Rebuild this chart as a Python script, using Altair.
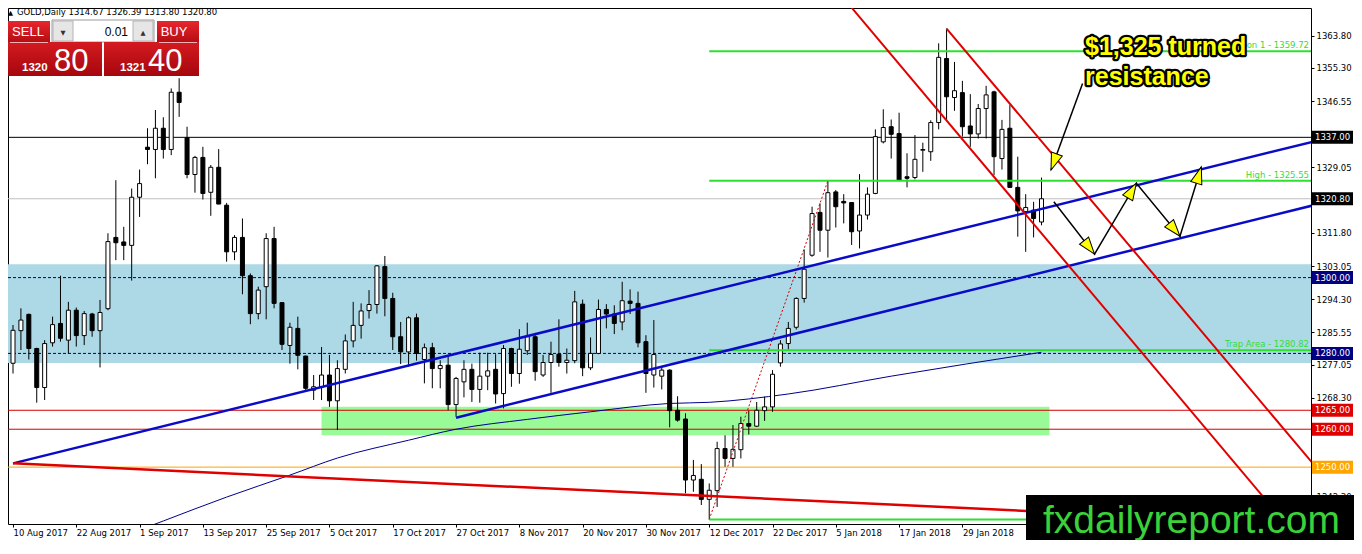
import math
import altair as alt
import numpy as np
import pandas as pd

# ---------------- data ----------------
date_labels = ["10 Aug 2017", "22 Aug 2017", "1 Sep 2017", "13 Sep 2017", "25 Sep 2017",
               "5 Oct 2017", "17 Oct 2017", "27 Oct 2017", "8 Nov 2017", "20 Nov 2017",
               "30 Nov 2017", "12 Dec 2017", "22 Dec 2017", "5 Jan 2018", "17 Jan 2018",
               "29 Jan 2018"]
price_ticks = [1363.80, 1355.30, 1346.55, 1337.80, 1329.05, 1320.30, 1311.80, 1303.05,
               1294.30, 1285.55, 1277.05, 1268.30, 1259.55, 1250.80, 1242.30]

opens = [1277.4, 1286.0, 1290.3, 1281.3, 1271.0, 1282.8, 1287.9, 1283.5, 1291.4, 1284.7,
         1290.4, 1286.0, 1291.8, 1310.6, 1309.4, 1308.5, 1321.2, 1334.4, 1333.8, 1339.4,
         1333.8, 1348.9, 1336.9, 1327.2, 1331.7, 1322.5, 1329.1, 1319.1, 1306.8, 1310.6,
         1300.5, 1290.5, 1297.6, 1310.3, 1293.4, 1282.1, 1286.6, 1279.3, 1270.3, 1271.2,
         1274.3, 1267.5, 1275.8, 1283.3, 1287.4, 1291.3, 1292.9, 1302.9, 1294.5, 1284.4,
         1280.4, 1289.4, 1278.4, 1281.5, 1276.0, 1276.9, 1266.5, 1272.5, 1275.8, 1270.5,
         1274.0, 1275.8, 1269.4, 1281.3, 1274.7, 1280.7, 1284.4, 1274.3, 1277.6, 1279.8,
         1277.6, 1278.1, 1293.0, 1276.2, 1280.0, 1291.6, 1290.4, 1288.3, 1293.8, 1293.2,
         1283.1, 1274.3, 1274.0, 1275.6, 1265.0, 1262.7, 1246.6, 1246.8, 1241.5, 1243.8,
         1254.9, 1252.3, 1254.6, 1261.5, 1260.8, 1264.9, 1265.9, 1277.5, 1282.6, 1286.9,
         1294.5, 1305.9, 1317.2, 1312.5, 1322.6, 1320.1, 1319.8, 1312.3, 1316.5, 1322.2,
         1335.8, 1339.8, 1338.0, 1326.6, 1326.4, 1333.6, 1333.2, 1340.9, 1357.8, 1347.5,
         1348.8, 1340.0, 1337.9, 1344.6, 1349.0, 1331.4, 1339.4, 1323.8, 1317.4, 1317.8,
         1314.67]
highs = [1287.5, 1291.9, 1290.5, 1281.5, 1283.5, 1289.7, 1300.5, 1293.6, 1292.1, 1291.2,
         1290.7, 1294.1, 1311.7, 1325.7, 1313.4, 1323.5, 1328.5, 1339.4, 1344.2, 1342.3,
         1349.9, 1352.6, 1339.8, 1332.1, 1334.5, 1329.7, 1333.9, 1319.7, 1311.2, 1315.6,
         1301.1, 1297.6, 1311.7, 1313.4, 1293.5, 1288.1, 1289.7, 1279.4, 1274.3, 1281.7,
         1279.6, 1278.2, 1285.0, 1293.6, 1293.2, 1296.7, 1303.3, 1305.7, 1296.0, 1288.3,
         1289.8, 1290.5, 1282.6, 1282.8, 1278.2, 1279.6, 1273.8, 1278.2, 1277.3, 1280.2,
         1280.2, 1279.8, 1282.2, 1281.5, 1286.4, 1288.1, 1285.4, 1279.6, 1283.1, 1289.0,
         1281.3, 1296.5, 1294.2, 1284.2, 1294.2, 1293.0, 1292.7, 1298.9, 1296.9, 1296.3,
         1284.8, 1288.8, 1276.7, 1275.8, 1268.7, 1264.2, 1251.9, 1250.8, 1245.7, 1256.7,
         1258.4, 1261.1, 1263.3, 1264.9, 1267.2, 1268.6, 1275.6, 1283.5, 1288.3, 1294.8,
         1307.4, 1318.7, 1319.6, 1325.55, 1323.1, 1322.0, 1319.9, 1327.3, 1323.8, 1339.1,
         1344.4, 1341.7, 1343.5, 1332.8, 1337.6, 1335.6, 1341.5, 1361.8, 1365.7, 1356.9,
         1351.9, 1348.4, 1345.8, 1350.6, 1349.3, 1341.6, 1345.5, 1331.9, 1322.0, 1320.0,
         1326.39]
lows = [1274.7, 1280.9, 1278.4, 1267.0, 1267.7, 1281.8, 1283.1, 1280.0, 1281.8, 1282.2,
        1284.4, 1276.3, 1291.4, 1304.6, 1304.6, 1299.2, 1316.0, 1329.9, 1326.2, 1331.4,
        1332.3, 1342.4, 1326.2, 1322.4, 1320.6, 1316.3, 1319.4, 1304.2, 1304.6, 1295.6,
        1287.7, 1289.0, 1289.0, 1291.9, 1280.9, 1277.3, 1275.8, 1270.3, 1267.7, 1267.7,
        1265.9, 1259.8, 1274.7, 1281.6, 1283.9, 1289.2, 1290.5, 1289.8, 1280.9, 1277.2,
        1276.5, 1278.1, 1272.1, 1270.8, 1270.8, 1265.0, 1263.3, 1268.4, 1267.2, 1267.0,
        1270.3, 1266.8, 1265.5, 1271.2, 1272.0, 1279.6, 1272.8, 1273.8, 1269.6, 1276.5,
        1274.7, 1277.4, 1274.0, 1275.6, 1279.8, 1286.6, 1285.1, 1286.1, 1290.4, 1281.6,
        1269.6, 1271.0, 1270.5, 1260.5, 1262.0, 1243.1, 1243.5, 1240.0, 1236.2, 1239.5,
        1250.1, 1250.1, 1252.3, 1258.6, 1260.6, 1262.2, 1264.6, 1276.5, 1281.0, 1286.3,
        1293.4, 1305.5, 1306.8, 1305.3, 1313.2, 1314.3, 1308.6, 1307.7, 1315.3, 1322.0,
        1335.4, 1331.4, 1325.5, 1323.8, 1325.9, 1327.9, 1330.8, 1339.1, 1341.6, 1344.0,
        1337.2, 1334.5, 1336.7, 1336.7, 1327.0, 1328.5, 1323.8, 1310.8, 1306.8, 1310.6,
        1313.80]
closes = [1286.1, 1288.8, 1281.3, 1271.0, 1282.6, 1287.6, 1284.0, 1291.4, 1284.7, 1290.5,
          1286.0, 1290.8, 1309.5, 1309.2, 1308.5, 1321.2, 1324.8, 1333.8, 1339.4, 1333.8,
          1348.9, 1346.2, 1327.2, 1331.7, 1322.2, 1329.1, 1319.4, 1306.8, 1310.6, 1300.5,
          1290.5, 1296.7, 1310.3, 1293.2, 1282.4, 1286.9, 1279.5, 1270.8, 1271.2, 1274.3,
          1267.5, 1276.0, 1283.3, 1287.4, 1291.2, 1292.9, 1303.1, 1294.5, 1284.4, 1280.4,
          1289.4, 1280.0, 1281.5, 1276.0, 1276.8, 1266.5, 1273.4, 1275.8, 1270.5, 1274.0,
          1275.4, 1269.3, 1281.3, 1274.7, 1281.1, 1284.4, 1275.2, 1277.6, 1279.7, 1277.6,
          1278.2, 1293.6, 1276.2, 1280.0, 1291.6, 1290.4, 1287.9, 1293.9, 1293.2, 1282.8,
          1274.7, 1279.7, 1275.6, 1264.9, 1262.4, 1246.6, 1247.8, 1241.5, 1243.9, 1254.9,
          1252.3, 1254.7, 1261.5, 1260.8, 1265.0, 1265.9, 1274.5, 1282.5, 1286.6, 1294.5,
          1302.2, 1316.9, 1312.5, 1322.4, 1318.7, 1319.7, 1312.1, 1316.5, 1322.0, 1337.2,
          1339.6, 1337.8, 1325.7, 1326.2, 1331.2, 1333.8, 1340.9, 1358.1, 1347.7, 1349.3,
          1339.8, 1337.9, 1344.6, 1348.2, 1331.9, 1339.1, 1323.8, 1317.6, 1318.5, 1315.6,
          1320.80]

# 200-day moving average (bar index, price)
ma_bar = [14, 19, 27, 35, 41, 50, 56, 65, 73, 83, 88, 98, 111, 130]
ma_val = [1231.8, 1235.8, 1242.1, 1247.9, 1252.4, 1257.1, 1260.0, 1262.6, 1264.6,
          1266.8, 1267.1, 1269.3, 1274.0, 1280.3]

# zones / levels
blue_zone = [1277.5, 1303.5]
dashed_levels = [1300.0, 1280.0]
green_zone_bars = [39, 131]
green_zone_prices = [1258.4, 1265.9]
black_level = 1337.0
current_price = 1320.80
red_levels = [1265.0, 1260.0]
orange_level = 1250.0
fib_start_bar = 88
fib_levels = [1359.72, 1325.55, 1280.82, 1236.2]
fib_names = ["Expansion 1", "High", "Trap Area", ""]
fib_swing_bars = [88, 103]
fib_swing_prices = [1236.2, 1325.55]

# trend lines (bar index, price)
blue_long_bars, blue_long_prices = [0, 164.4], [1251.0, 1335.9]
blue_short_bars, blue_short_prices = [56, 164.4], [1263.05, 1319.1]
red_long_bars, red_long_prices = [0, 164.4], [1251.0, 1234.9]
red_ch1_bars, red_ch1_prices = [106.0, 162.2], [1371.2, 1231.8]
red_ch2_bars, red_ch2_prices = [118, 164.4], [1365.7, 1250.7]

# projected path and callout arrow
zig_bars = [131.56, 136.7, 141.99, 147.5, 150.2]
zig_prices = [1320.0, 1306.2, 1324.9, 1310.9, 1329.2]
call_bars = [135.19, 131.2]
call_prices = [1351.2, 1328.4]

tag_values = [1337.00, 1320.80, 1300.00, 1280.00, 1265.00, 1260.00, 1250.00]

# ---------------- layout ----------------
W, H = 1303, 516
X0, X1 = 0.0, 163.43
Y0, Y1 = 1235.0, 1371.12
KX = W / (X1 - X0)
KY = H / (Y1 - Y0)
AXF = "DejaVu Sans"
TXF = "Liberation Sans"

xs = alt.Scale(domain=[X0, X1], nice=False, zero=False)
ys = alt.Scale(domain=[Y0, Y1], nice=False, zero=False)
label_expr = "[" + ",".join("'%s'" % d for d in date_labels) + "][round(datum.value / 8)]"
xaxis = alt.Axis(values=list(range(0, 8 * len(date_labels), 8)), labelExpr=label_expr, title=None,
                 labelAlign="left", labelBaseline="top", labelFont=AXF, labelFontSize=8.5,
                 labelColor="black", tickColor="black", tickSize=3, labelPadding=1,
                 domain=False, grid=False, labelFlush=False, labelOverlap=False, labelBound=False)
yaxis = alt.Axis(orient="right", values=price_ticks, format=".2f", title=None,
                 labelFont=AXF, labelFontSize=8.5, labelColor="black", tickColor="black",
                 tickSize=3, labelPadding=2, domain=False, grid=False, labelFlush=False,
                 labelOverlap=False, labelBound=False)


def X(f):
    return alt.X(f, type="quantitative", scale=xs, axis=xaxis)


def Y(f):
    return alt.Y(f, type="quantitative", scale=ys, axis=yaxis)


dummy = pd.DataFrame({"k": [0]})


def seg(bars, prices):
    return pd.DataFrame({"x": bars, "y": prices, "k": list(range(len(bars)))})


def line(bars, prices, color, width, dash=None):
    kw = dict(color=color, strokeWidth=width, clip=True)
    if dash:
        kw["strokeDash"] = dash
    return alt.Chart(seg(bars, prices)).mark_line(**kw).encode(
        x=X("x"), y=Y("y"), order=alt.Order("k:Q"))


def box(x0, x1, y0, y1, fill, stroke=None):
    kw = dict(fill=fill)
    if stroke:
        kw.update(stroke=stroke, strokeWidth=1)
    return alt.Chart(dummy).mark_rect(**kw).encode(
        x=alt.value(x0), x2=alt.value(x1), y=alt.value(y0), y2=alt.value(y1))


def txt(x, y, s, size, color, font=TXF, weight="normal", align="left", baseline="alphabetic",
        **extra):
    return alt.Chart(dummy).mark_text(font=font, fontSize=size, fontWeight=weight, align=align,
                                      baseline=baseline, color=color, **extra).encode(
        x=alt.value(x), y=alt.value(y), text=alt.value(s))


layers = []

# background zones
layers.append(alt.Chart(pd.DataFrame({"y": [blue_zone[0]], "y2": [blue_zone[1]]}))
              .mark_rect(color="#add8e6").encode(x=alt.value(0), x2=alt.value(W), y=Y("y"), y2="y2"))
layers.append(alt.Chart(pd.DataFrame({"y": dashed_levels})).mark_rule(
    color="#000080", strokeWidth=1, strokeDash=[3, 2]).encode(y=Y("y")))
layers.append(alt.Chart(pd.DataFrame({"x": [green_zone_bars[0]], "x2": [green_zone_bars[1]],
                                      "y": [green_zone_prices[0]], "y2": [green_zone_prices[1]]}))
              .mark_rect(color="#98fb98", clip=True).encode(x=X("x"), x2="x2", y=Y("y"), y2="y2"))

# horizontal levels
layers.append(alt.Chart(pd.DataFrame({"y": [black_level]})).mark_rule(color="black", strokeWidth=1).encode(y=Y("y")))
layers.append(alt.Chart(pd.DataFrame({"y": [current_price]})).mark_rule(color="#c0c0c0", strokeWidth=1).encode(y=Y("y")))
layers.append(alt.Chart(pd.DataFrame({"y": red_levels})).mark_rule(color="#d40000", strokeWidth=1).encode(y=Y("y")))
layers.append(alt.Chart(pd.DataFrame({"y": [orange_level]})).mark_rule(color="#ffa500", strokeWidth=1).encode(y=Y("y")))

# moving average
layers.append(alt.Chart(pd.DataFrame({"x": ma_bar, "y": ma_val})).mark_line(
    color="#00008b", strokeWidth=1, clip=True, interpolate="monotone").encode(x=X("x"), y=Y("y")))

# candles
cdf = pd.DataFrame({"x": list(range(len(opens))), "o": opens, "h": highs, "l": lows, "c": closes})
cdf["fill"] = np.where(cdf["c"] >= cdf["o"], "white", "black")
layers.append(alt.Chart(cdf).mark_rule(color="black", strokeWidth=1, clip=True).encode(
    x=X("x"), y=Y("l"), y2="h"))
layers.append(alt.Chart(cdf).mark_bar(width=4, stroke="black", strokeWidth=1, clip=True).encode(
    x=X("x"), y=Y("o"), y2="c", fill=alt.Fill("fill:N", scale=None)))

# fibonacci expansion levels
fdf = pd.DataFrame({"x": [fib_start_bar] * len(fib_levels), "y": fib_levels,
                    "t": ["%s - %.2f" % (n, v) if n else "" for n, v in zip(fib_names, fib_levels)]})
layers.append(alt.Chart(fdf).mark_rule(color="#2ee02e", strokeWidth=2).encode(
    x=X("x"), x2=alt.value(W), y=Y("y")))
layers.append(alt.Chart(fdf).mark_text(align="right", baseline="alphabetic", dy=-3, font=AXF,
                                       fontSize=8.5, color="#33dd33").encode(
    x=alt.value(W - 2), y=Y("y"), text="t:N"))
layers.append(line(fib_swing_bars, fib_swing_prices, "#d40000", 1, [2, 2]))

# trend lines
layers.append(line(blue_long_bars, blue_long_prices, "#0a0ac8", 2.5))
layers.append(line(blue_short_bars, blue_short_prices, "#0a0ac8", 2.5))
layers.append(line(red_long_bars, red_long_prices, "#e00000", 2.5))
layers.append(line(red_ch1_bars, red_ch1_prices, "#e00000", 2))
layers.append(line(red_ch2_bars, red_ch2_prices, "#e00000", 2))

# arrows
layers.append(line(zig_bars, zig_prices, "black", 1.5))
layers.append(line(call_bars, call_prices, "black", 1.5))


def heads(bars, prices):
    rows = []
    for j in range(1, len(bars)):
        dx = (bars[j] - bars[j - 1]) * KX
        dy = -(prices[j] - prices[j - 1]) * KY
        ang = math.degrees(math.atan2(dx, -dy)) % 360
        rows.append({"x": bars[j], "y": prices[j], "a": ang})
    return rows


hdf = pd.DataFrame(heads(zig_bars, zig_prices) + heads(call_bars, call_prices))
layers.append(alt.Chart(hdf).mark_point(shape="M0,0L-0.68,2L0.68,2Z", size=289, filled=True,
                                        fill="#ffff00", stroke="black", strokeWidth=1, opacity=1,
                                        fillOpacity=1).encode(
    x=X("x"), y=Y("y"), angle=alt.Angle("a:Q", scale=None)))

# callout text: black stroked outline, then yellow fill on top (same baseline)
for yy, s in [(47, "$1,325 turned"), (77, "resistance")]:
    layers.append(txt(1077, yy, s, 25, "black", weight="bold",
                      stroke="black", strokeWidth=4.5, strokeJoin="round"))
    layers.append(txt(1077, yy, s, 25, "#ffff00", weight="bold"))

# price tags on the axis
tag_bg = ["black", "black", "#000080", "#000080", "#e00000", "#e00000", "#ffa500"]
tdf = pd.DataFrame({"y": tag_values, "bg": tag_bg})
layers.append(alt.Chart(tdf).mark_rule(strokeWidth=13).encode(
    x=alt.value(W + 1), x2=alt.value(W + 42), y=Y("y"), color=alt.Color("bg:N", scale=None)))
layers.append(alt.Chart(tdf).mark_text(align="left", baseline="middle", font=AXF, fontSize=8.5,
                                       color="white").encode(
    x=alt.value(W + 4), y=Y("y"), text=alt.Text("y:Q", format=".2f")))

# header line
layers.append(txt(0, 7, "\u25b2", 6.5, "black", font=AXF))
layers.append(txt(9, 7, "GOLD,Daily  1314.67 1326.39 1313.80 1320.80", 8.5, "black", font=AXF))

# one-click trading panel
red_grad = alt.Gradient(gradient="linear", x1=0, x2=0, y1=0, y2=1,
                        stops=[alt.GradientStop(color="#e8262d", offset=0),
                               alt.GradientStop(color="#b50d13", offset=1)])
red_grad2 = alt.Gradient(gradient="linear", x1=0, x2=0, y1=0, y2=1,
                         stops=[alt.GradientStop(color="#d41a20", offset=0),
                                alt.GradientStop(color="#a5070d", offset=1)])
layers.append(box(0, 42, 13, 34, red_grad))
layers.append(box(149, 191, 13, 34, red_grad))
layers.append(box(44, 146, 12, 34, "white", "#9a9a9a"))
layers.append(box(45, 65, 13, 33, "#e6e6e6", "#b4b4b4"))
layers.append(box(125, 145, 13, 33, "#e6e6e6", "#b4b4b4"))
layers.append(box(0, 94, 34, 68, red_grad2))
layers.append(box(96, 191, 34, 68, red_grad2))
layers.append(alt.Chart(dummy).mark_rule(color="#f4b0b0", strokeWidth=1).encode(
    x=alt.value(2), x2=alt.value(40), y=alt.value(34.5)))
layers.append(alt.Chart(dummy).mark_rule(color="#f4b0b0", strokeWidth=1).encode(
    x=alt.value(151), x2=alt.value(189), y=alt.value(34.5)))
layers.append(txt(20, 28, "SELL", 13, "white", align="center"))
layers.append(txt(166, 28, "BUY", 13, "white", align="center"))
layers.append(txt(120, 28, "0.01", 12, "black", align="right"))
layers.append(txt(55, 27, "\u25bc", 6.5, "#333333", font=AXF, align="center"))
layers.append(txt(135, 27, "\u25b2", 6.5, "#333333", font=AXF, align="center"))
layers.append(txt(14, 63, "1320", 11.5, "white", weight="bold"))
layers.append(txt(46, 63, "80", 31, "white"))
layers.append(txt(112, 63, "1321", 11.5, "white", weight="bold"))
layers.append(txt(140, 63, "40", 31, "white"))

# site logo
layers.append(box(1018, W + 45, 487, H + 18, "black"))
layers.append(txt(1035, 525, "fxdailyreport.com", 39, "#3bd13b"))

chart = alt.layer(*layers).properties(
    width=W, height=H,
    padding={"left": 0, "top": 0, "right": 43, "bottom": 16},
    autosize=alt.AutoSizeParams(type="none"),
    background="white",
).configure_view(stroke="black", strokeWidth=1)

chart.save("out.html", embed_options={"renderer": "svg", "actions": False})
